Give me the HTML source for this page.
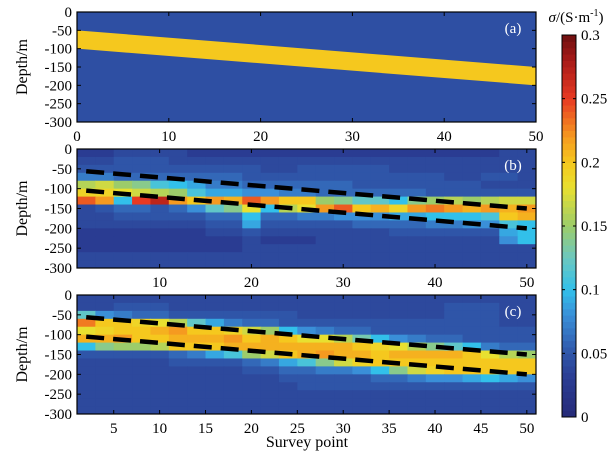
<!DOCTYPE html>
<html><head><meta charset="utf-8">
<style>
html,body{margin:0;padding:0;background:#fff;}
svg{display:block;font-family:"Liberation Serif",serif;}
</style></head>
<body>
<svg id="chart" width="610" height="456" viewBox="0 0 610 456"></svg>
<script>
// ---- data ----
const modelX=[0,50];
const modelTop=[-50,-150];
const modelBottom=[-100,-200];
const modelValue=0.2;
const backgroundValue=0.045;
const dashX=[2,50];
const dashUpper=[-56,-150];
const dashLower=[-105,-200];
const colCenters=[2,4,6,8,10,12,14,16,18,20,22,24,26,28,30,32,34,36,38,40,42,44,46,48,50];
const rowDepths=[0,20,40,60,80,100,120,140,160,180,200,220,240,260,280];
// panel (b) values, sigma*100, rows top->bottom
const gridB=[
[3,3,4,4,4,4,3,3,3,3,3,3,3,3,3,3,3,3,3,3,3,3,3,4,4],
[4,4,5,5,5,4,4,4,4,4,4,4,4,4,4,4,4,4,4,4,4,4,4,4,4],
[5,5,5,5,5,5,5,5,5,5,4,4,5,5,5,5,5,4,4,4,4,4,4,4,4],
[7,7,6,6,6,6,6,6,6,5,5,5,5,5,5,5,5,5,5,5,4,4,5,5,4],
[16,17,15,14,11,10,9,7,7,6,6,6,6,6,6,5,5,5,5,5,5,5,4,4,4],
[19,19,18,17,16,15,11,9,9,8,8,7,7,6,6,6,6,6,6,5,5,5,5,5,5],
[24,22,10,25,27,22,20,22,21,24,22,20,20,15,14,12,12,10,14,15,16,15,16,17,17],
[4,5,6,6,5,6,8,12,14,18,10,16,18,22,24,20,21,19,22,23,22,21,22,21,22],
[4,4,5,5,5,5,5,6,6,10,6,6,7,7,8,8,8,9,9,10,10,10,11,20,21],
[4,4,4,4,4,4,4,5,5,9,5,5,5,5,5,6,6,6,6,7,7,8,8,11,10],
[3,3,3,3,3,3,3,4,4,5,4,4,4,4,4,4,4,5,5,5,5,5,5,9,10],
[3,3,3,3,3,3,3,3,3,4,3,3,3,4,4,4,4,4,4,4,4,4,4,8,10],
[3,3,3,3,3,3,3,3,3,4,4,4,4,4,4,4,4,4,4,4,4,4,4,4,4],
[4,4,4,4,4,4,4,4,4,4,4,4,4,4,4,4,4,4,4,4,4,4,4,4,4],
[4,4,4,4,4,4,4,4,4,4,4,4,4,4,4,4,4,4,4,4,4,4,4,4,4]
];
// panel (c) values, sigma*100
const gridC=[
[4,4,4,4,4,4,4,4,4,4,4,4,4,4,4,4,4,4,4,4,4,4,4,4,4],
[4,4,5,5,5,4,4,4,4,4,4,4,4,4,4,4,4,4,4,4,5,5,5,4,4],
[12,8,7,6,6,5,5,5,5,5,5,5,4,4,4,4,4,4,4,4,5,5,5,4,4],
[23,20,20,19,18,16,12,9,7,6,6,5,5,5,5,5,5,5,5,5,5,5,5,4,4],
[18,19,20,20,21,22,20,20,19,17,15,10,8,7,6,6,5,5,5,5,5,5,5,5,5],
[21,21,22,20,20,21,21,21,22,20,21,20,18,18,16,13,10,8,7,6,6,5,5,5,5],
[10,14,15,15,16,20,20,20,21,21,21,21,21,21,21,20,19,18,16,14,12,10,7,6,6],
[5,5,5,5,5,6,7,9,11,15,17,20,21,22,21,21,20,21,21,21,21,20,18,16,15],
[4,4,4,4,4,5,5,5,5,6,7,9,11,14,17,19,20,20,20,20,20,20,20,20,20],
[4,4,4,4,4,4,4,4,4,5,5,6,6,7,7,8,10,14,17,19,20,20,20,20,20],
[4,4,4,4,4,4,4,4,4,4,4,5,5,5,5,5,6,6,7,8,8,9,10,9,8],
[4,4,4,4,4,4,4,4,4,4,4,4,5,5,5,5,5,5,5,5,5,5,5,5,5],
[4,4,4,4,4,4,4,4,4,4,4,4,4,4,4,4,4,4,4,4,4,4,4,4,4],
[4,4,4,4,4,4,4,4,4,4,4,4,4,4,4,4,4,4,4,4,4,4,4,4,4],
[4,4,4,4,4,4,4,4,4,4,4,4,4,4,4,4,4,4,4,4,4,4,4,4,4]
];
const yTicks=[0,-50,-100,-150,-200,-250,-300];
const xTicksA=[0,10,20,30,40,50];
const xTicksB=[10,20,30,40,50];
const xTicksC=[5,10,15,20,25,30,35,40,45,50];
const cbTicks=[0,0.05,0.1,0.15,0.2,0.25,0.3];

// ---- colormap ----
const stops=[[0,'#262a78'],[0.03,'#2a3c92'],[0.05,'#2f55a8'],[0.08,'#3a8fd8'],[0.1,'#32c0ea'],[0.125,'#6cc8c0'],[0.15,'#9ccc6a'],[0.18,'#e8e030'],[0.2,'#f5c81e'],[0.22,'#f59a20'],[0.25,'#e83a22'],[0.28,'#a81a18'],[0.3,'#6e1010']];
function hex(c){return [1,3,5].map(i=>parseInt(c.substr(i,2),16));}
function cmap(v){
  v=Math.max(0,Math.min(0.3,v));
  for(let i=0;i<stops.length-1;i++){
    const [a,ca]=stops[i],[b,cb]=stops[i+1];
    if(v<=b){const t=(v-a)/(b-a);const A=hex(ca),B=hex(cb);
      return 'rgb('+A.map((x,k)=>Math.round(x+(B[k]-x)*t)).join(',')+')';}
  }
  return stops[stops.length-1][1];
}
const NS='http://www.w3.org/2000/svg';
const svg=document.getElementById('chart');
function el(tag,attrs,parent){const e=document.createElementNS(NS,tag);for(const k in attrs)e.setAttribute(k,attrs[k]);(parent||svg).appendChild(e);return e;}

const L=77,R=536;
const panels=[
 {id:'a',top:12,h:110,x0:0,x1:50,xt:xTicksA},
 {id:'b',top:149,h:119,x0:1,x1:51,xt:xTicksB},
 {id:'c',top:295,h:119,x0:1,x1:51,xt:xTicksC}
];
panels.forEach(p=>{
  const g=el('g',{});
  
  
  const X=v=>L+(v-p.x0)/(p.x1-p.x0)*(R-L);
  const Y=d=>p.top+(-d)/300*p.h;
  if(p.id==='a'){
    const bg=el('rect',{x:L,y:p.top,width:R-L,height:p.h,fill:cmap(backgroundValue)},g);
    
    
    const pts=modelX.map((x,i)=>X(x)+','+Y(modelTop[i])).concat(modelX.slice().reverse().map((x,i)=>X(x)+','+Y(modelBottom[modelX.length-1-i])));
    const band=el('polygon',{points:pts.join(' '),fill:cmap(modelValue)},g);
    
    
  } else {
    const grid=p.id==='b'?gridB:gridC;
    const clip=el('clipPath',{id:'clip'+p.id},g);
    el('rect',{x:L,y:p.top,width:R-L,height:p.h},clip);
    const cg=el('g',{'clip-path':'url(#clip'+p.id+')'},g);
    grid.forEach((row,r)=>{
      row.forEach((v,c)=>{
        const x0=X(colCenters[c]-1),x1=X(colCenters[c]+1);
        const y0=Y(-rowDepths[r]),y1=Y(-(rowDepths[r]+20));
        const cell=el('rect',{x:x0,y:y0,width:x1-x0+0.6,height:y1-y0+0.6,fill:cmap(v/100)},cg);
        
        
      });
    });
    [[dashUpper,'upper'],[dashLower,'lower']].forEach(([d,n])=>{
      const ln=el('line',{x1:X(dashX[0]),y1:Y(d[0]),x2:X(dashX[1]),y2:Y(d[1]),stroke:'#000','stroke-width':4.5,'stroke-dasharray':'18,9'},g);
      
      
    });
  }
  const fr=el('rect',{x:L,y:p.top,width:R-L,height:p.h,fill:'none',stroke:'#000','stroke-width':1.2},g);
  
  
  yTicks.forEach(t=>{
    const y=Y(t);
    el('line',{x1:L,y1:y,x2:L+4,y2:y,stroke:'#000'},g);
    el('line',{x1:R-4,y1:y,x2:R,y2:y,stroke:'#000'},g);
    const tx=el('text',{x:72,y:y+5,'text-anchor':'end','font-size':15},g);
    tx.textContent=t;
    
    
  });
  p.xt.forEach(t=>{
    const x=X(t);
    el('line',{x1:x,y1:p.top+p.h,x2:x,y2:p.top+p.h-4,stroke:'#000'},g);
    el('line',{x1:x,y1:p.top,x2:x,y2:p.top+4,stroke:'#000'},g);
    const tx=el('text',{x:x,y:p.top+p.h+19,'text-anchor':'middle','font-size':15},g);
    tx.textContent=t;
    
    
  });
  const cy=p.top+p.h/2;
  const yl=el('text',{x:27,y:cy,'text-anchor':'middle','font-size':16,transform:'rotate(-90 27 '+cy+')'},g);
  yl.textContent='Depth/m';
  
  
  const pl=el('text',{x:513,y:p.top+21,'text-anchor':'middle','font-size':15,fill:'#fff'},g);
  pl.textContent='('+p.id+')';
  
  
});
const xt=el('text',{x:307,y:447,'text-anchor':'middle','font-size':16});
xt.textContent='Survey point';



// colorbar
const cbTop=35,cbBot=417,cbL=562,cbW=14;
const cb=el('g',{});


const N=60;
for(let i=0;i<N;i++){
  const v=0.3*(i+0.5)/N;
  const y=cbBot-(i+1)/N*(cbBot-cbTop);
  el('rect',{x:cbL,y:y,width:cbW,height:(cbBot-cbTop)/N+0.5,fill:cmap(v)},cb);
}
el('rect',{x:cbL,y:cbTop,width:cbW,height:cbBot-cbTop,fill:'none',stroke:'#000','stroke-width':1},cb);
cbTicks.forEach(t=>{
  const y=cbBot-t/0.3*(cbBot-cbTop);
  el('line',{x1:cbL+cbW-3,y1:y,x2:cbL+cbW,y2:y,stroke:'#000'},cb);
  el('line',{x1:cbL,y1:y,x2:cbL+3,y2:y,stroke:'#000'},cb);
  const tx=el('text',{x:581,y:y+5,'font-size':15},cb);
  tx.textContent=t;
  
  
});
const ct=el('text',{x:576,y:22,'text-anchor':'middle','font-size':15});
ct.innerHTML='<tspan font-style="italic">σ</tspan>/(S·m<tspan font-size="10" dy="-6">-1</tspan><tspan dy="6">)</tspan>';


</script>
</body></html>
